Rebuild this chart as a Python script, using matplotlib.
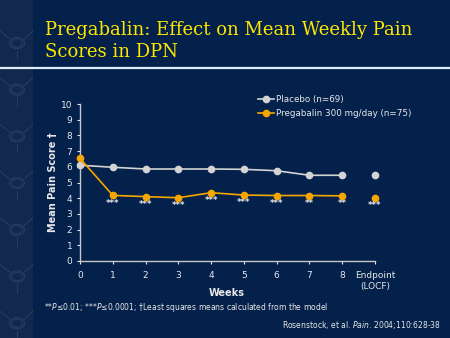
import numpy as np
import matplotlib
matplotlib.use("Agg")
import matplotlib.pyplot as plt
from matplotlib.patches import Rectangle, Circle
from matplotlib.lines import Line2D

# Chart data
weeks = [0, 1, 2, 3, 4, 5, 6, 7, 8]
endpoint_x = 9
tick_labels = ["0", "1", "2", "3", "4", "5", "6", "7", "8", "Endpoint\n(LOCF)"]
placebo = [6.1, 5.97, 5.86, 5.86, 5.86, 5.84, 5.75, 5.46, 5.46]
placebo_end = 5.48
pregabalin = [6.54, 4.18, 4.1, 4.03, 4.35, 4.2, 4.17, 4.17, 4.15]
pregabalin_end = 4.03
stars = ["***", "***", "***", "***", "***", "***", "**", "**", "***"]
star_x = [1, 2, 3, 4, 5, 6, 7, 8, 9]

bg = "#03214B"
strip = "#13284D"
fg = "#E8E8E8"
orange = "#F7A600"
grey = "#D3D3D3"

fig = plt.figure(figsize=(4.5, 3.38), dpi=100, facecolor=bg)

# decorative strip on the left
fig.patches.append(Rectangle((0, 0), 33 / 450, 1, transform=fig.transFigure,
                             facecolor=strip, edgecolor="none", zorder=0))
for cy in np.arange(43, 338, 46.7):
    yf = 1 - cy / 338
    for r in (7.5, 5.5):
        fig.patches.append(Circle((17 / 450, yf), r / 450, transform=fig.transFigure,
                                  fill=False, edgecolor="#2E4266", lw=0.6, zorder=1))
    fig.lines.append(Line2D([17 / 450, 17 / 450], [yf - 7.5 / 338, yf - 16 / 338],
                            transform=fig.transFigure, color="#2E4266", lw=0.6))
    fig.lines.append(Line2D([10 / 450, 0], [yf + 4 / 338, yf + 12 / 338],
                            transform=fig.transFigure, color="#2E4266", lw=0.6))
    fig.lines.append(Line2D([24 / 450, 33 / 450], [yf + 4 / 338, yf + 12 / 338],
                            transform=fig.transFigure, color="#2E4266", lw=0.6))

# title and rule
fig.text(45 / 450, 1 - 41 / 338, "Pregabalin: Effect on Mean Weekly Pain\nScores in DPN",
         color="#FFE600", fontsize=13, family="DejaVu Serif", va="center", ha="left",
         linespacing=1.3)
fig.lines.append(Line2D([0, 1], [1 - 68 / 338, 1 - 68 / 338], transform=fig.transFigure,
                        color="#DDEEFA", lw=1.6))

ax = fig.add_axes([80 / 450, 1 - 261 / 338, 295 / 450, 157 / 338])
ax.set_facecolor(bg)

ax.plot(weeks, placebo, color=grey, marker="o", ms=4.5, lw=1.2, label="Placebo (n=69)",
        clip_on=False, zorder=3)
ax.plot(weeks, pregabalin, color=orange, marker="o", ms=4.5, lw=1.2,
        label="Pregabalin 300 mg/day (n=75)", clip_on=False, zorder=4)
ax.plot([endpoint_x], [placebo_end], color=grey, marker="o", ms=4.5, ls="none", clip_on=False)
ax.plot([endpoint_x], [pregabalin_end], color=orange, marker="o", ms=4.5, ls="none",
        clip_on=False)

all_preg = pregabalin[1:] + [pregabalin_end]
for x, y, s in zip(star_x, all_preg, stars):
    ax.text(x, y - 0.5, s, color=fg, fontsize=6, ha="center", va="center",
            fontweight="bold")

ax.set_xlim(0, 9)
ax.set_ylim(0, 10)
ax.set_xticks(weeks + [endpoint_x])
ax.set_xticklabels(tick_labels)
ax.set_yticks(range(0, 11))
ax.tick_params(colors=fg, labelsize=6.5, length=2.5, width=0.8, pad=3)
ax.tick_params(axis="x", pad=5)
for side in ("top", "right"):
    ax.spines[side].set_visible(False)
for side in ("left", "bottom"):
    ax.spines[side].set_color("#C8C8C8")
    ax.spines[side].set_linewidth(1.0)
ax.set_ylabel("Mean Pain Score \u2020", color=fg, fontsize=7, fontweight="bold", labelpad=2)
fig.text(227 / 450, 1 - 293 / 338, "Weeks", color=fg, fontsize=7, fontweight="bold",
         ha="center", va="center")

leg = ax.legend(loc="upper left", bbox_to_anchor=(0.59, 1.08), frameon=False,
                fontsize=6.3, handlelength=1.9, handletextpad=0.2, labelspacing=0.55,
                borderaxespad=0)
for t in leg.get_texts():
    t.set_color(fg)

fig.text(44 / 450, 1 - 307 / 338,
         "**$P$\u22640.01; ***$P$\u22640.0001; \u2020Least squares means calculated from the model",
         color=fg, fontsize=5.5, ha="left", va="center")
fig.text(441 / 450, 1 - 325 / 338, "Rosenstock, et al. $Pain$. 2004;110:628-38",
         color=fg, fontsize=5.5, ha="right", va="center")

fig.savefig("out.png", dpi=100, facecolor=bg)
